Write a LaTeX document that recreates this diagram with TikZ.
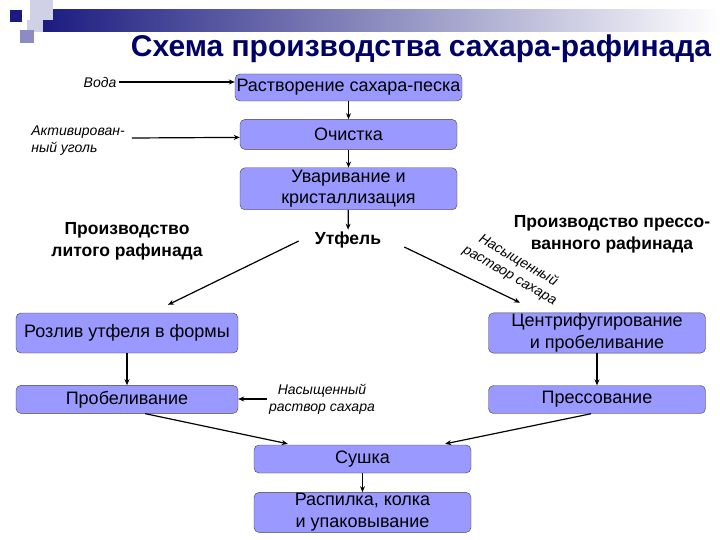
\documentclass[tikz,border=0pt]{standalone}
\usepackage{fontspec}
\setmainfont{Liberation Sans}
\usepackage{xcolor}
\usepackage{tikz}
\usetikzlibrary{arrows.meta, positioning, calc}
\definecolor{boxblue}{RGB}{153,153,255}
\definecolor{titleblue}{RGB}{0,0,102}
\definecolor{barblue}{RGB}{28,28,128}
\definecolor{paleblue}{RGB}{208,208,230}
\definecolor{midblue}{RGB}{140,140,195}
\tikzset{
  stage/.style={
      draw=black!75,
      fill=boxblue,
      rectangle,
      rounded corners=5pt,
      minimum width=217pt,
      minimum height=28pt,
      inner sep=1pt,
      align=center,
      font=\fontsize{18}{21.5}\selectfont
  },
  input/.style={
      align=center,
      inner sep=2pt,
      font=\fontsize{14}{17}\selectfont\itshape
  },
  branch/.style={
      align=center,
      inner sep=2pt,
      font=\fontsize{17.5}{22}\selectfont\bfseries
  },
  arrow/.style={-{Stealth[length=6pt,width=5pt]}, line width=1.2pt}
}

\begin{document}
\begin{tikzpicture}[x=1pt, y=-1pt]
      \useasboundingbox (0,0) rectangle (720,540);
      % Slide decoration
      \shade[left color=barblue, right color=white] (43,10) rectangle (720,32);
      \fill[paleblue] (30,0) rectangle (53,20);
      \fill[paleblue] (27,20) rectangle (43,32);
      \fill[barblue] (10,10) rectangle (22,22);
      \fill[midblue] (20,30) rectangle (34,43);

      % Title
      \node (title) [font=\fontsize{30}{34}\selectfont\bfseries, text=titleblue] at (421,49) {Схема производства сахара-рафинада};

      % Common stages
      \node (rastvor) [stage, minimum width=227pt, minimum height=27pt] at (348.5,87.5) {Растворение сахара-песка};
      \node (ochistka) [stage, minimum height=30pt, below=18pt of rastvor] {Очистка};
      \node (uvar) [stage, minimum height=42pt, below=18pt of ochistka] {Уваривание и\\кристаллизация};
      \node (utfel) [branch] at (348,240) {Утфель};

      % Inputs
      \node (voda) [input] at (100,82) {Вода};
      \node (ugol) [input, align=left] at (78,141) {Активирован-\\ный уголь};

      % Branches
      \node (litoy) [branch] at (127,241) {Производство\\литого рафинада};
      \node (pressov) [branch] at (612,234) {Производство прессо-\\ванного рафинада};

      % Cast refined sugar
      \node (rozliv) [stage, minimum width=222pt, minimum height=40pt] at (127,333) {Розлив утфеля в формы};
      \node (probel) [stage, minimum width=222pt, below=32pt of rozliv] {Пробеливание};
      \node (rastvorL) [input] at (322,399) {Насыщенный\\раствор сахара};

      % Pressed refined sugar
      \node (centrif) [stage, minimum height=40pt] at (597,333) {Центрифугирование\\и пробеливание};
      \node (press) [stage, below=32pt of centrif] {Прессование};
      \node (rastvorR) [input, rotate=-30] at (514,268) {Насыщенный\\раствор сахара};

      % Final stages
      \node (sushka) [stage] at (362.5,459) {Сушка};
      \node (raspil) [stage, minimum height=40pt, below=19pt of sushka] {Распилка, колка\\и упаковывание};

      % Connections
      \draw[arrow] (voda.east) -- (voda.east -| rastvor.west);
      \draw[arrow] ($(ugol.east)+(5,-3)$) -- ($(ochistka.west)+(0,3)$);
      \draw[arrow] (rastvor) -- (ochistka);
      \draw[arrow] (ochistka) -- (uvar);
      \draw[arrow] (uvar) -- (utfel);
      \draw[arrow] ($(utfel.west)+(-14,1)$) -- ($(rozliv.north)+(41,-8)$);
      \draw[arrow] ($(utfel.east)+(21,7)$) -- ($(centrif.north)+(-77,-10)$);
      \draw[arrow] (rozliv) -- (probel);
      \draw[arrow] (rastvorL.west) -- (rastvorL.west -| probel.east);
      \draw[arrow] (centrif) -- (press);
      \draw[arrow] ($(probel.south)+(18,0)$) -- ($(sushka.north west)+(34,-1)$);
      \draw[arrow] ($(press.south)+(-6,0)$) -- ($(sushka.north east)+(-26,-1)$);
      \draw[arrow] (sushka) -- (raspil);
    \end{tikzpicture}
\end{document}
